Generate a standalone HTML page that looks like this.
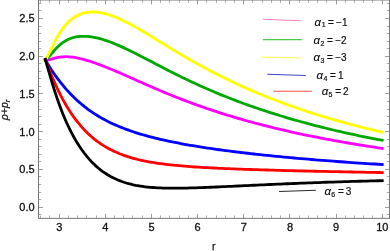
<!DOCTYPE html>
<html><head><meta charset="utf-8"><style>
html,body{margin:0;padding:0;background:#fff;}
body{width:390px;height:251px;overflow:hidden;}
svg{display:block;font-family:"Liberation Sans",sans-serif;will-change:transform;}
.t{stroke:#9c9c9c;stroke-width:1;}
.m{stroke:#adadad;stroke-width:1;}
.fr{fill:none;stroke:#787878;stroke-width:1;}
.tl{font-size:11px;fill:#111;stroke:#111;stroke-width:0.3px;}
.lg{font-size:10px;fill:#111;stroke:#111;stroke-width:0.2px;}
.it{font-style:italic;font-size:11.5px;fill:#111;stroke:#111;stroke-width:0.12px;}
.sub{font-size:7px;fill:#111;stroke:#111;stroke-width:0.2px;}
.ax{font-size:10.5px;fill:#111;stroke:#111;stroke-width:0.25px;}
</style></head><body>
<svg width="390" height="251" viewBox="0 0 390 251">
<rect x="0" y="0" width="390" height="251" fill="#fff"/>
<clipPath id="cp"><rect x="38.5" y="0.0" width="351.0" height="218.35"/></clipPath>
<g clip-path="url(#cp)">
<path d="M45.36,59.98 L45.48,60.00 L45.74,60.03 L46.08,60.05 L46.51,60.06 L47.00,60.05 L47.56,60.00 L48.18,59.91 L48.85,59.79 L49.58,59.64 L50.35,59.44 L51.17,59.22 L52.04,58.98 L52.96,58.72 L53.92,58.45 L54.91,58.18 L55.95,57.92 L57.03,57.66 L58.15,57.43 L59.31,57.22 L60.50,57.05 L61.73,56.90 L63.00,56.79 L64.30,56.73 L65.63,56.70 L67.00,56.72 L68.40,56.78 L69.84,56.88 L71.30,57.03 L72.80,57.22 L74.33,57.45 L75.89,57.72 L77.49,58.03 L79.11,58.37 L80.76,58.76 L82.44,59.18 L84.15,59.64 L85.89,60.12 L87.65,60.65 L89.45,61.20 L91.27,61.79 L93.12,62.40 L95.00,63.05 L96.90,63.72 L98.84,64.43 L100.79,65.16 L102.78,65.91 L104.79,66.69 L106.82,67.50 L108.89,68.33 L110.97,69.19 L113.09,70.07 L115.22,70.96 L117.38,71.88 L119.57,72.82 L121.78,73.78 L124.02,74.76 L126.28,75.75 L128.56,76.75 L130.87,77.77 L133.20,78.81 L135.55,79.85 L137.93,80.91 L140.33,81.97 L142.75,83.04 L145.20,84.12 L147.67,85.20 L150.16,86.29 L152.68,87.38 L155.21,88.48 L157.77,89.57 L160.35,90.67 L162.95,91.77 L165.58,92.86 L168.22,93.95 L170.89,95.04 L173.58,96.13 L176.29,97.21 L179.02,98.29 L181.77,99.36 L184.55,100.43 L187.34,101.49 L190.16,102.54 L192.99,103.59 L195.85,104.62 L198.73,105.66 L201.62,106.68 L204.54,107.69 L207.48,108.70 L210.44,109.70 L213.41,110.69 L216.41,111.67 L219.43,112.64 L222.47,113.61 L225.52,114.56 L228.60,115.51 L231.69,116.44 L234.81,117.37 L237.94,118.29 L241.10,119.20 L244.27,120.10 L247.46,120.99 L250.67,121.87 L253.91,122.74 L257.15,123.61 L260.42,124.46 L263.71,125.31 L267.01,126.14 L270.34,126.97 L273.68,127.79 L277.04,128.60 L280.42,129.41 L283.82,130.20 L287.23,130.98 L290.67,131.76 L294.12,132.53 L297.59,133.29 L301.08,134.04 L304.58,134.78 L308.11,135.51 L311.65,136.24 L315.21,136.95 L318.79,137.66 L322.38,138.36 L325.99,139.05 L329.62,139.73 L333.27,140.40 L336.93,141.06 L340.62,141.72 L344.32,142.36 L348.03,143.00 L351.77,143.63 L355.52,144.25 L359.29,144.86 L363.07,145.46 L366.87,146.05 L370.69,146.63 L374.53,147.20 L378.38,147.77 L382.25,148.32" fill="none" stroke="#ff00ff" stroke-width="2.8" stroke-linejoin="round" stroke-linecap="square"/>
<path d="M45.36,60.10 L45.48,60.01 L45.74,59.83 L46.08,59.56 L46.51,59.19 L47.00,58.74 L47.56,58.19 L48.18,57.55 L48.85,56.81 L49.58,55.99 L50.35,55.08 L51.17,54.11 L52.04,53.09 L52.96,52.02 L53.92,50.92 L54.91,49.80 L55.95,48.67 L57.03,47.56 L58.15,46.46 L59.31,45.40 L60.50,44.37 L61.73,43.38 L63.00,42.45 L64.30,41.58 L65.63,40.77 L67.00,40.02 L68.40,39.35 L69.84,38.73 L71.30,38.19 L72.80,37.72 L74.33,37.31 L75.89,36.98 L77.49,36.71 L79.11,36.51 L80.76,36.37 L82.44,36.30 L84.15,36.29 L85.89,36.35 L87.65,36.47 L89.45,36.64 L91.27,36.88 L93.12,37.18 L95.00,37.53 L96.90,37.94 L98.84,38.41 L100.79,38.93 L102.78,39.51 L104.79,40.13 L106.82,40.81 L108.89,41.54 L110.97,42.31 L113.09,43.14 L115.22,44.00 L117.38,44.91 L119.57,45.86 L121.78,46.85 L124.02,47.88 L126.28,48.94 L128.56,50.04 L130.87,51.16 L133.20,52.32 L135.55,53.50 L137.93,54.71 L140.33,55.94 L142.75,57.19 L145.20,58.46 L147.67,59.74 L150.16,61.04 L152.68,62.35 L155.21,63.68 L157.77,65.01 L160.35,66.35 L162.95,67.69 L165.58,69.04 L168.22,70.40 L170.89,71.75 L173.58,73.11 L176.29,74.46 L179.02,75.81 L181.77,77.16 L184.55,78.51 L187.34,79.85 L190.16,81.18 L192.99,82.51 L195.85,83.83 L198.73,85.15 L201.62,86.45 L204.54,87.75 L207.48,89.04 L210.44,90.31 L213.41,91.58 L216.41,92.84 L219.43,94.09 L222.47,95.33 L225.52,96.56 L228.60,97.78 L231.69,98.98 L234.81,100.18 L237.94,101.36 L241.10,102.54 L244.27,103.70 L247.46,104.85 L250.67,105.99 L253.91,107.12 L257.15,108.24 L260.42,109.34 L263.71,110.44 L267.01,111.52 L270.34,112.59 L273.68,113.66 L277.04,114.71 L280.42,115.75 L283.82,116.77 L287.23,117.79 L290.67,118.80 L294.12,119.79 L297.59,120.77 L301.08,121.75 L304.58,122.71 L308.11,123.66 L311.65,124.60 L315.21,125.52 L318.79,126.44 L322.38,127.35 L325.99,128.24 L329.62,129.12 L333.27,129.99 L336.93,130.85 L340.62,131.70 L344.32,132.53 L348.03,133.36 L351.77,134.17 L355.52,134.97 L359.29,135.76 L363.07,136.54 L366.87,137.30 L370.69,138.06 L374.53,138.80 L378.38,139.53 L382.25,140.24" fill="none" stroke="#00a800" stroke-width="2.8" stroke-linejoin="round" stroke-linecap="square"/>
<path d="M45.36,60.22 L45.48,60.03 L45.74,59.63 L46.08,59.06 L46.51,58.33 L47.00,57.43 L47.56,56.38 L48.18,55.18 L48.85,53.82 L49.58,52.34 L50.35,50.72 L51.17,49.00 L52.04,47.20 L52.96,45.31 L53.92,43.38 L54.91,41.41 L55.95,39.43 L57.03,37.45 L58.15,35.49 L59.31,33.57 L60.50,31.69 L61.73,29.87 L63.00,28.11 L64.30,26.44 L65.63,24.84 L67.00,23.33 L68.40,21.91 L69.84,20.59 L71.30,19.36 L72.80,18.22 L74.33,17.18 L75.89,16.24 L77.49,15.39 L79.11,14.64 L80.76,13.99 L82.44,13.42 L84.15,12.95 L85.89,12.57 L87.65,12.29 L89.45,12.09 L91.27,11.98 L93.12,11.95 L95.00,12.02 L96.90,12.17 L98.84,12.40 L100.79,12.71 L102.78,13.10 L104.79,13.57 L106.82,14.12 L108.89,14.74 L110.97,15.44 L113.09,16.21 L115.22,17.04 L117.38,17.94 L119.57,18.90 L121.78,19.92 L124.02,21.00 L126.28,22.13 L128.56,23.32 L130.87,24.55 L133.20,25.83 L135.55,27.15 L137.93,28.51 L140.33,29.90 L142.75,31.33 L145.20,32.79 L147.67,34.28 L150.16,35.79 L152.68,37.32 L155.21,38.87 L157.77,40.44 L160.35,42.03 L162.95,43.62 L165.58,45.23 L168.22,46.84 L170.89,48.46 L173.58,50.08 L176.29,51.71 L179.02,53.34 L181.77,54.96 L184.55,56.59 L187.34,58.21 L190.16,59.82 L192.99,61.43 L195.85,63.04 L198.73,64.63 L201.62,66.22 L204.54,67.80 L207.48,69.37 L210.44,70.93 L213.41,72.48 L216.41,74.02 L219.43,75.54 L222.47,77.06 L225.52,78.56 L228.60,80.05 L231.69,81.52 L234.81,82.99 L237.94,84.44 L241.10,85.88 L244.27,87.30 L247.46,88.71 L250.67,90.11 L253.91,91.49 L257.15,92.87 L260.42,94.22 L263.71,95.57 L267.01,96.90 L270.34,98.21 L273.68,99.52 L277.04,100.81 L280.42,102.08 L283.82,103.35 L287.23,104.60 L290.67,105.83 L294.12,107.05 L297.59,108.26 L301.08,109.46 L304.58,110.64 L308.11,111.80 L311.65,112.96 L315.21,114.10 L318.79,115.22 L322.38,116.33 L325.99,117.43 L329.62,118.52 L333.27,119.58 L336.93,120.64 L340.62,121.68 L344.32,122.71 L348.03,123.72 L351.77,124.72 L355.52,125.70 L359.29,126.67 L363.07,127.62 L366.87,128.56 L370.69,129.48 L374.53,130.39 L378.38,131.28 L382.25,132.16" fill="none" stroke="#ffff00" stroke-width="2.8" stroke-linejoin="round" stroke-linecap="square"/>
<path d="M45.36,59.74 L45.48,59.96 L45.74,60.43 L46.08,61.05 L46.51,61.80 L47.00,62.66 L47.56,63.62 L48.18,64.65 L48.85,65.76 L49.58,66.93 L50.35,68.16 L51.17,69.44 L52.04,70.76 L52.96,72.13 L53.92,73.52 L54.91,74.95 L55.95,76.40 L57.03,77.87 L58.15,79.37 L59.31,80.88 L60.50,82.40 L61.73,83.94 L63.00,85.47 L64.30,87.02 L65.63,88.56 L67.00,90.11 L68.40,91.65 L69.84,93.18 L71.30,94.70 L72.80,96.21 L74.33,97.71 L75.89,99.19 L77.49,100.66 L79.11,102.11 L80.76,103.53 L82.44,104.94 L84.15,106.32 L85.89,107.68 L87.65,109.01 L89.45,110.32 L91.27,111.60 L93.12,112.85 L95.00,114.08 L96.90,115.28 L98.84,116.45 L100.79,117.60 L102.78,118.72 L104.79,119.81 L106.82,120.88 L108.89,121.92 L110.97,122.94 L113.09,123.93 L115.22,124.89 L117.38,125.83 L119.57,126.75 L121.78,127.64 L124.02,128.51 L126.28,129.36 L128.56,130.19 L130.87,131.00 L133.20,131.79 L135.55,132.56 L137.93,133.31 L140.33,134.04 L142.75,134.75 L145.20,135.45 L147.67,136.13 L150.16,136.80 L152.68,137.45 L155.21,138.08 L157.77,138.71 L160.35,139.31 L162.95,139.91 L165.58,140.49 L168.22,141.06 L170.89,141.62 L173.58,142.17 L176.29,142.71 L179.02,143.24 L181.77,143.76 L184.55,144.27 L187.34,144.77 L190.16,145.26 L192.99,145.74 L195.85,146.21 L198.73,146.68 L201.62,147.14 L204.54,147.59 L207.48,148.03 L210.44,148.47 L213.41,148.90 L216.41,149.33 L219.43,149.74 L222.47,150.16 L225.52,150.56 L228.60,150.96 L231.69,151.36 L234.81,151.75 L237.94,152.13 L241.10,152.51 L244.27,152.89 L247.46,153.26 L250.67,153.63 L253.91,153.99 L257.15,154.35 L260.42,154.70 L263.71,155.05 L267.01,155.39 L270.34,155.73 L273.68,156.07 L277.04,156.40 L280.42,156.73 L283.82,157.05 L287.23,157.37 L290.67,157.69 L294.12,158.00 L297.59,158.31 L301.08,158.62 L304.58,158.92 L308.11,159.22 L311.65,159.51 L315.21,159.81 L318.79,160.09 L322.38,160.38 L325.99,160.66 L329.62,160.94 L333.27,161.21 L336.93,161.48 L340.62,161.75 L344.32,162.02 L348.03,162.28 L351.77,162.54 L355.52,162.79 L359.29,163.04 L363.07,163.29 L366.87,163.54 L370.69,163.78 L374.53,164.02 L378.38,164.25 L382.25,164.49" fill="none" stroke="#0000ff" stroke-width="2.8" stroke-linejoin="round" stroke-linecap="square"/>
<path d="M45.36,59.62 L45.48,59.95 L45.74,60.63 L46.08,61.55 L46.51,62.67 L47.00,63.97 L47.56,65.42 L48.18,67.02 L48.85,68.75 L49.58,70.58 L50.35,72.52 L51.17,74.55 L52.04,76.66 L52.96,78.83 L53.92,81.06 L54.91,83.33 L55.95,85.64 L57.03,87.98 L58.15,90.34 L59.31,92.71 L60.50,95.08 L61.73,97.45 L63.00,99.81 L64.30,102.16 L65.63,104.49 L67.00,106.80 L68.40,109.08 L69.84,111.33 L71.30,113.54 L72.80,115.71 L74.33,117.84 L75.89,119.93 L77.49,121.98 L79.11,123.97 L80.76,125.92 L82.44,127.82 L84.15,129.66 L85.89,131.45 L87.65,133.19 L89.45,134.87 L91.27,136.50 L93.12,138.08 L95.00,139.60 L96.90,141.06 L98.84,142.47 L100.79,143.82 L102.78,145.13 L104.79,146.37 L106.82,147.57 L108.89,148.71 L110.97,149.81 L113.09,150.86 L115.22,151.85 L117.38,152.80 L119.57,153.71 L121.78,154.57 L124.02,155.39 L126.28,156.17 L128.56,156.91 L130.87,157.61 L133.20,158.28 L135.55,158.91 L137.93,159.50 L140.33,160.07 L142.75,160.61 L145.20,161.11 L147.67,161.59 L150.16,162.05 L152.68,162.48 L155.21,162.89 L157.77,163.27 L160.35,163.64 L162.95,163.98 L165.58,164.31 L168.22,164.62 L170.89,164.92 L173.58,165.20 L176.29,165.46 L179.02,165.71 L181.77,165.96 L184.55,166.19 L187.34,166.40 L190.16,166.61 L192.99,166.81 L195.85,167.01 L198.73,167.19 L201.62,167.37 L204.54,167.53 L207.48,167.70 L210.44,167.85 L213.41,168.01 L216.41,168.15 L219.43,168.29 L222.47,168.43 L225.52,168.56 L228.60,168.69 L231.69,168.82 L234.81,168.94 L237.94,169.06 L241.10,169.17 L244.27,169.29 L247.46,169.40 L250.67,169.51 L253.91,169.61 L257.15,169.72 L260.42,169.82 L263.71,169.92 L267.01,170.01 L270.34,170.11 L273.68,170.20 L277.04,170.30 L280.42,170.39 L283.82,170.48 L287.23,170.57 L290.67,170.65 L294.12,170.74 L297.59,170.82 L301.08,170.91 L304.58,170.99 L308.11,171.07 L311.65,171.15 L315.21,171.23 L318.79,171.31 L322.38,171.39 L325.99,171.47 L329.62,171.54 L333.27,171.62 L336.93,171.70 L340.62,171.77 L344.32,171.85 L348.03,171.92 L351.77,171.99 L355.52,172.07 L359.29,172.14 L363.07,172.21 L366.87,172.28 L370.69,172.35 L374.53,172.43 L378.38,172.50 L382.25,172.57" fill="none" stroke="#ff0000" stroke-width="2.8" stroke-linejoin="round" stroke-linecap="square"/>
<path d="M45.36,59.49 L45.48,59.93 L45.74,60.82 L46.08,62.04 L46.51,63.54 L47.00,65.27 L47.56,67.23 L48.18,69.39 L48.85,71.73 L49.58,74.23 L50.35,76.88 L51.17,79.66 L52.04,82.55 L52.96,85.53 L53.92,88.59 L54.91,91.71 L55.95,94.88 L57.03,98.08 L58.15,101.31 L59.31,104.53 L60.50,107.76 L61.73,110.97 L63.00,114.15 L64.30,117.31 L65.63,120.43 L67.00,123.49 L68.40,126.51 L69.84,129.47 L71.30,132.37 L72.80,135.21 L74.33,137.98 L75.89,140.67 L77.49,143.29 L79.11,145.84 L80.76,148.31 L82.44,150.69 L84.15,153.00 L85.89,155.23 L87.65,157.37 L89.45,159.43 L91.27,161.41 L93.12,163.30 L95.00,165.11 L96.90,166.84 L98.84,168.48 L100.79,170.05 L102.78,171.53 L104.79,172.93 L106.82,174.26 L108.89,175.51 L110.97,176.68 L113.09,177.78 L115.22,178.82 L117.38,179.78 L119.57,180.67 L121.78,181.50 L124.02,182.27 L126.28,182.98 L128.56,183.63 L130.87,184.22 L133.20,184.77 L135.55,185.26 L137.93,185.70 L140.33,186.10 L142.75,186.46 L145.20,186.78 L147.67,187.06 L150.16,187.30 L152.68,187.51 L155.21,187.69 L157.77,187.84 L160.35,187.96 L162.95,188.05 L165.58,188.13 L168.22,188.18 L170.89,188.21 L173.58,188.22 L176.29,188.21 L179.02,188.19 L181.77,188.15 L184.55,188.10 L187.34,188.04 L190.16,187.97 L192.99,187.89 L195.85,187.80 L198.73,187.70 L201.62,187.59 L204.54,187.48 L207.48,187.36 L210.44,187.24 L213.41,187.11 L216.41,186.98 L219.43,186.84 L222.47,186.71 L225.52,186.57 L228.60,186.42 L231.69,186.28 L234.81,186.13 L237.94,185.98 L241.10,185.83 L244.27,185.69 L247.46,185.54 L250.67,185.39 L253.91,185.24 L257.15,185.09 L260.42,184.94 L263.71,184.79 L267.01,184.64 L270.34,184.49 L273.68,184.34 L277.04,184.19 L280.42,184.05 L283.82,183.90 L287.23,183.76 L290.67,183.62 L294.12,183.48 L297.59,183.34 L301.08,183.20 L304.58,183.06 L308.11,182.93 L311.65,182.79 L315.21,182.66 L318.79,182.53 L322.38,182.40 L325.99,182.27 L329.62,182.15 L333.27,182.03 L336.93,181.91 L340.62,181.79 L344.32,181.67 L348.03,181.56 L351.77,181.45 L355.52,181.34 L359.29,181.23 L363.07,181.13 L366.87,181.03 L370.69,180.93 L374.53,180.83 L378.38,180.74 L382.25,180.65" fill="none" stroke="#000000" stroke-width="2.8" stroke-linejoin="round" stroke-linecap="square"/>
</g>
<line x1="40.50" y1="218.35" x2="40.50" y2="215.55" class="m"/>
<line x1="40.50" y1="0.00" x2="40.50" y2="2.80" class="m"/>
<line x1="49.50" y1="218.35" x2="49.50" y2="215.55" class="m"/>
<line x1="49.50" y1="0.00" x2="49.50" y2="2.80" class="m"/>
<line x1="59.50" y1="218.35" x2="59.50" y2="213.95" class="t"/>
<line x1="59.50" y1="0.00" x2="59.50" y2="4.40" class="t"/>
<line x1="68.50" y1="218.35" x2="68.50" y2="215.55" class="m"/>
<line x1="68.50" y1="0.00" x2="68.50" y2="2.80" class="m"/>
<line x1="77.50" y1="218.35" x2="77.50" y2="215.55" class="m"/>
<line x1="77.50" y1="0.00" x2="77.50" y2="2.80" class="m"/>
<line x1="86.50" y1="218.35" x2="86.50" y2="215.55" class="m"/>
<line x1="86.50" y1="0.00" x2="86.50" y2="2.80" class="m"/>
<line x1="96.50" y1="218.35" x2="96.50" y2="215.55" class="m"/>
<line x1="96.50" y1="0.00" x2="96.50" y2="2.80" class="m"/>
<line x1="105.50" y1="218.35" x2="105.50" y2="213.95" class="t"/>
<line x1="105.50" y1="0.00" x2="105.50" y2="4.40" class="t"/>
<line x1="114.50" y1="218.35" x2="114.50" y2="215.55" class="m"/>
<line x1="114.50" y1="0.00" x2="114.50" y2="2.80" class="m"/>
<line x1="123.50" y1="218.35" x2="123.50" y2="215.55" class="m"/>
<line x1="123.50" y1="0.00" x2="123.50" y2="2.80" class="m"/>
<line x1="132.50" y1="218.35" x2="132.50" y2="215.55" class="m"/>
<line x1="132.50" y1="0.00" x2="132.50" y2="2.80" class="m"/>
<line x1="142.50" y1="218.35" x2="142.50" y2="215.55" class="m"/>
<line x1="142.50" y1="0.00" x2="142.50" y2="2.80" class="m"/>
<line x1="151.50" y1="218.35" x2="151.50" y2="213.95" class="t"/>
<line x1="151.50" y1="0.00" x2="151.50" y2="4.40" class="t"/>
<line x1="160.50" y1="218.35" x2="160.50" y2="215.55" class="m"/>
<line x1="160.50" y1="0.00" x2="160.50" y2="2.80" class="m"/>
<line x1="169.50" y1="218.35" x2="169.50" y2="215.55" class="m"/>
<line x1="169.50" y1="0.00" x2="169.50" y2="2.80" class="m"/>
<line x1="179.50" y1="218.35" x2="179.50" y2="215.55" class="m"/>
<line x1="179.50" y1="0.00" x2="179.50" y2="2.80" class="m"/>
<line x1="188.50" y1="218.35" x2="188.50" y2="215.55" class="m"/>
<line x1="188.50" y1="0.00" x2="188.50" y2="2.80" class="m"/>
<line x1="197.50" y1="218.35" x2="197.50" y2="213.95" class="t"/>
<line x1="197.50" y1="0.00" x2="197.50" y2="4.40" class="t"/>
<line x1="206.50" y1="218.35" x2="206.50" y2="215.55" class="m"/>
<line x1="206.50" y1="0.00" x2="206.50" y2="2.80" class="m"/>
<line x1="216.50" y1="218.35" x2="216.50" y2="215.55" class="m"/>
<line x1="216.50" y1="0.00" x2="216.50" y2="2.80" class="m"/>
<line x1="225.50" y1="218.35" x2="225.50" y2="215.55" class="m"/>
<line x1="225.50" y1="0.00" x2="225.50" y2="2.80" class="m"/>
<line x1="234.50" y1="218.35" x2="234.50" y2="215.55" class="m"/>
<line x1="234.50" y1="0.00" x2="234.50" y2="2.80" class="m"/>
<line x1="243.50" y1="218.35" x2="243.50" y2="213.95" class="t"/>
<line x1="243.50" y1="0.00" x2="243.50" y2="4.40" class="t"/>
<line x1="252.50" y1="218.35" x2="252.50" y2="215.55" class="m"/>
<line x1="252.50" y1="0.00" x2="252.50" y2="2.80" class="m"/>
<line x1="262.50" y1="218.35" x2="262.50" y2="215.55" class="m"/>
<line x1="262.50" y1="0.00" x2="262.50" y2="2.80" class="m"/>
<line x1="271.50" y1="218.35" x2="271.50" y2="215.55" class="m"/>
<line x1="271.50" y1="0.00" x2="271.50" y2="2.80" class="m"/>
<line x1="280.50" y1="218.35" x2="280.50" y2="215.55" class="m"/>
<line x1="280.50" y1="0.00" x2="280.50" y2="2.80" class="m"/>
<line x1="289.50" y1="218.35" x2="289.50" y2="213.95" class="t"/>
<line x1="289.50" y1="0.00" x2="289.50" y2="4.40" class="t"/>
<line x1="299.50" y1="218.35" x2="299.50" y2="215.55" class="m"/>
<line x1="299.50" y1="0.00" x2="299.50" y2="2.80" class="m"/>
<line x1="308.50" y1="218.35" x2="308.50" y2="215.55" class="m"/>
<line x1="308.50" y1="0.00" x2="308.50" y2="2.80" class="m"/>
<line x1="317.50" y1="218.35" x2="317.50" y2="215.55" class="m"/>
<line x1="317.50" y1="0.00" x2="317.50" y2="2.80" class="m"/>
<line x1="326.50" y1="218.35" x2="326.50" y2="215.55" class="m"/>
<line x1="326.50" y1="0.00" x2="326.50" y2="2.80" class="m"/>
<line x1="336.50" y1="218.35" x2="336.50" y2="213.95" class="t"/>
<line x1="336.50" y1="0.00" x2="336.50" y2="4.40" class="t"/>
<line x1="345.50" y1="218.35" x2="345.50" y2="215.55" class="m"/>
<line x1="345.50" y1="0.00" x2="345.50" y2="2.80" class="m"/>
<line x1="354.50" y1="218.35" x2="354.50" y2="215.55" class="m"/>
<line x1="354.50" y1="0.00" x2="354.50" y2="2.80" class="m"/>
<line x1="363.50" y1="218.35" x2="363.50" y2="215.55" class="m"/>
<line x1="363.50" y1="0.00" x2="363.50" y2="2.80" class="m"/>
<line x1="372.50" y1="218.35" x2="372.50" y2="215.55" class="m"/>
<line x1="372.50" y1="0.00" x2="372.50" y2="2.80" class="m"/>
<line x1="382.50" y1="218.35" x2="382.50" y2="213.95" class="t"/>
<line x1="382.50" y1="0.00" x2="382.50" y2="4.40" class="t"/>
<line x1="38.50" y1="214.50" x2="41.30" y2="214.50" class="m"/>
<line x1="389.50" y1="214.50" x2="386.70" y2="214.50" class="m"/>
<line x1="38.50" y1="207.50" x2="42.90" y2="207.50" class="t"/>
<line x1="389.50" y1="207.50" x2="385.10" y2="207.50" class="t"/>
<line x1="38.50" y1="199.50" x2="41.30" y2="199.50" class="m"/>
<line x1="389.50" y1="199.50" x2="386.70" y2="199.50" class="m"/>
<line x1="38.50" y1="192.50" x2="41.30" y2="192.50" class="m"/>
<line x1="389.50" y1="192.50" x2="386.70" y2="192.50" class="m"/>
<line x1="38.50" y1="184.50" x2="41.30" y2="184.50" class="m"/>
<line x1="389.50" y1="184.50" x2="386.70" y2="184.50" class="m"/>
<line x1="38.50" y1="176.50" x2="41.30" y2="176.50" class="m"/>
<line x1="389.50" y1="176.50" x2="386.70" y2="176.50" class="m"/>
<line x1="38.50" y1="169.50" x2="42.90" y2="169.50" class="t"/>
<line x1="389.50" y1="169.50" x2="385.10" y2="169.50" class="t"/>
<line x1="38.50" y1="161.50" x2="41.30" y2="161.50" class="m"/>
<line x1="389.50" y1="161.50" x2="386.70" y2="161.50" class="m"/>
<line x1="38.50" y1="154.50" x2="41.30" y2="154.50" class="m"/>
<line x1="389.50" y1="154.50" x2="386.70" y2="154.50" class="m"/>
<line x1="38.50" y1="146.50" x2="41.30" y2="146.50" class="m"/>
<line x1="389.50" y1="146.50" x2="386.70" y2="146.50" class="m"/>
<line x1="38.50" y1="139.50" x2="41.30" y2="139.50" class="m"/>
<line x1="389.50" y1="139.50" x2="386.70" y2="139.50" class="m"/>
<line x1="38.50" y1="131.50" x2="42.90" y2="131.50" class="t"/>
<line x1="389.50" y1="131.50" x2="385.10" y2="131.50" class="t"/>
<line x1="38.50" y1="124.50" x2="41.30" y2="124.50" class="m"/>
<line x1="389.50" y1="124.50" x2="386.70" y2="124.50" class="m"/>
<line x1="38.50" y1="116.50" x2="41.30" y2="116.50" class="m"/>
<line x1="389.50" y1="116.50" x2="386.70" y2="116.50" class="m"/>
<line x1="38.50" y1="109.50" x2="41.30" y2="109.50" class="m"/>
<line x1="389.50" y1="109.50" x2="386.70" y2="109.50" class="m"/>
<line x1="38.50" y1="101.50" x2="41.30" y2="101.50" class="m"/>
<line x1="389.50" y1="101.50" x2="386.70" y2="101.50" class="m"/>
<line x1="38.50" y1="93.50" x2="42.90" y2="93.50" class="t"/>
<line x1="389.50" y1="93.50" x2="385.10" y2="93.50" class="t"/>
<line x1="38.50" y1="86.50" x2="41.30" y2="86.50" class="m"/>
<line x1="389.50" y1="86.50" x2="386.70" y2="86.50" class="m"/>
<line x1="38.50" y1="78.50" x2="41.30" y2="78.50" class="m"/>
<line x1="389.50" y1="78.50" x2="386.70" y2="78.50" class="m"/>
<line x1="38.50" y1="71.50" x2="41.30" y2="71.50" class="m"/>
<line x1="389.50" y1="71.50" x2="386.70" y2="71.50" class="m"/>
<line x1="38.50" y1="63.50" x2="41.30" y2="63.50" class="m"/>
<line x1="389.50" y1="63.50" x2="386.70" y2="63.50" class="m"/>
<line x1="38.50" y1="56.50" x2="42.90" y2="56.50" class="t"/>
<line x1="389.50" y1="56.50" x2="385.10" y2="56.50" class="t"/>
<line x1="38.50" y1="48.50" x2="41.30" y2="48.50" class="m"/>
<line x1="389.50" y1="48.50" x2="386.70" y2="48.50" class="m"/>
<line x1="38.50" y1="41.50" x2="41.30" y2="41.50" class="m"/>
<line x1="389.50" y1="41.50" x2="386.70" y2="41.50" class="m"/>
<line x1="38.50" y1="33.50" x2="41.30" y2="33.50" class="m"/>
<line x1="389.50" y1="33.50" x2="386.70" y2="33.50" class="m"/>
<line x1="38.50" y1="26.50" x2="41.30" y2="26.50" class="m"/>
<line x1="389.50" y1="26.50" x2="386.70" y2="26.50" class="m"/>
<line x1="38.50" y1="18.50" x2="42.90" y2="18.50" class="t"/>
<line x1="389.50" y1="18.50" x2="385.10" y2="18.50" class="t"/>
<line x1="38.50" y1="10.50" x2="41.30" y2="10.50" class="m"/>
<line x1="389.50" y1="10.50" x2="386.70" y2="10.50" class="m"/>
<line x1="38.50" y1="3.50" x2="41.30" y2="3.50" class="m"/>
<line x1="389.50" y1="3.50" x2="386.70" y2="3.50" class="m"/>
<rect x="38.5" y="0.0" width="351.00" height="218.35" class="fr"/>
<text x="59.20" y="231.2" text-anchor="middle" class="tl">3</text>
<text x="105.35" y="231.2" text-anchor="middle" class="tl">4</text>
<text x="151.50" y="231.2" text-anchor="middle" class="tl">5</text>
<text x="197.65" y="231.2" text-anchor="middle" class="tl">6</text>
<text x="243.80" y="231.2" text-anchor="middle" class="tl">7</text>
<text x="289.95" y="231.2" text-anchor="middle" class="tl">8</text>
<text x="336.10" y="231.2" text-anchor="middle" class="tl">9</text>
<text x="382.25" y="231.2" text-anchor="middle" class="tl">10</text>
<text x="34.6" y="211.05" text-anchor="end" class="tl">0.0</text>
<text x="34.6" y="173.33" text-anchor="end" class="tl">0.5</text>
<text x="34.6" y="135.61" text-anchor="end" class="tl">1.0</text>
<text x="34.6" y="97.89" text-anchor="end" class="tl">1.5</text>
<text x="34.6" y="60.17" text-anchor="end" class="tl">2.0</text>
<text x="34.6" y="22.45" text-anchor="end" class="tl">2.5</text>
<line x1="262.9" y1="19.3" x2="301.0" y2="20.7" stroke="#ff80c0" stroke-width="1.05"/>
<text x="314.40" y="25.5" class="it">α</text><text x="321.80" y="27.40" class="sub">1</text><text x="327.90" y="25.5" class="lg">=</text><text x="336.10" y="25.5" class="lg" font-size="9.4px">−</text><text x="341.90" y="25.5" class="lg">1</text>
<line x1="262.9" y1="39.6" x2="301.8" y2="39.6" stroke="#4cc64c" stroke-width="1.05"/>
<text x="313.60" y="43.85" class="it">α</text><text x="320.50" y="45.75" class="sub">2</text><text x="327.10" y="43.85" class="lg">=</text><text x="335.30" y="43.85" class="lg" font-size="9.4px">−</text><text x="341.10" y="43.85" class="lg">2</text>
<line x1="261.4" y1="56.9" x2="301.6" y2="58.0" stroke="#ffff50" stroke-width="1.05"/>
<text x="313.60" y="61.4" class="it">α</text><text x="320.50" y="63.30" class="sub">3</text><text x="327.10" y="61.4" class="lg">=</text><text x="335.30" y="61.4" class="lg" font-size="9.4px">−</text><text x="341.10" y="61.4" class="lg">3</text>
<line x1="267.2" y1="74.3" x2="305.8" y2="75.4" stroke="#4444cc" stroke-width="1.05"/>
<text x="316.60" y="79.2" class="it">α</text><text x="323.50" y="81.10" class="sub">4</text><text x="330.10" y="79.2" class="lg">=</text><text x="337.90" y="79.2" class="lg">1</text>
<line x1="273.3" y1="91.3" x2="312.1" y2="91.3" stroke="#ff5050" stroke-width="1.05"/>
<text x="321.70" y="95.2" class="it">α</text><text x="328.60" y="97.10" class="sub">5</text><text x="335.20" y="95.2" class="lg">=</text><text x="343.00" y="95.2" class="lg">2</text>
<line x1="279.0" y1="191.5" x2="315.8" y2="190.2" stroke="#2a2a2a" stroke-width="1.05"/>
<text x="324.40" y="194.6" class="it">α</text><text x="331.30" y="196.50" class="sub">6</text><text x="337.90" y="194.6" class="lg">=</text><text x="345.70" y="194.6" class="lg">3</text>
<text x="213.8" y="249.6" text-anchor="middle" class="ax">r</text>
<text transform="translate(7.7,109.9) rotate(-90)" text-anchor="middle" class="ax" font-style="italic"><tspan>ρ+p</tspan><tspan font-size="7.5px" dy="2">r</tspan></text>
</svg>
</body></html>
